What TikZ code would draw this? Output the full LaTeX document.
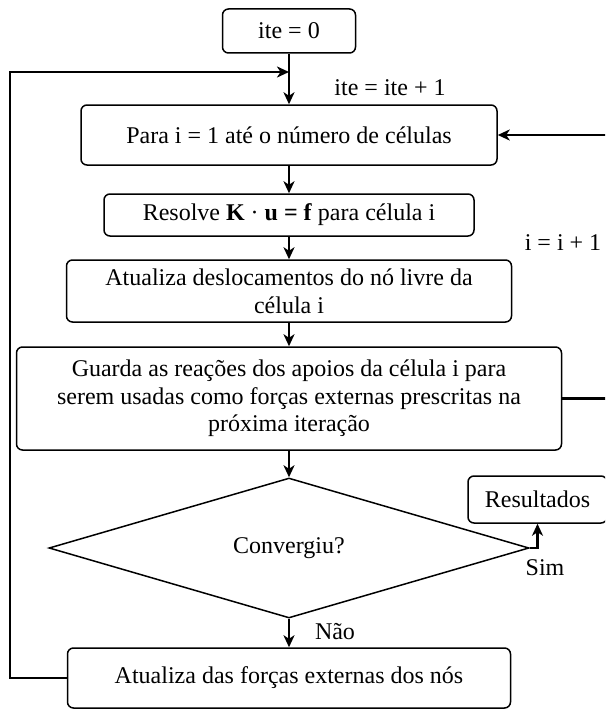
\documentclass[tikz,border=0pt]{standalone}
\usepackage{fontspec}
\setmainfont{Liberation Serif}
\usetikzlibrary{arrows.meta,shapes.geometric}
\begin{document}
\begin{tikzpicture}[x=1pt,y=-1pt,
  font=\fontsize{24}{27.6}\selectfont,
  box/.style={draw, line width=1.5pt, rounded corners=6pt, align=center, inner sep=0pt},
  conn/.style={line width=2.5pt, -{Stealth[length=12pt,width=11pt,inset=3.5pt]}},
  lbl/.style={inner sep=0pt}]
\useasboundingbox (0,0) rectangle (605,709);
\clip (0,0) rectangle (605,709);
\node[box, minimum width=133pt, minimum height=44pt] (start) at (289,31) {ite = 0};
\node[box, minimum width=416pt, minimum height=60pt] (b1) at (289,135) {Para i = 1 até o número de células};
\node[box, minimum width=370pt, minimum height=42pt] (b2) at (289,215) {Resolve \textbf{K} · \textbf{u = f} para célula i};
\node[box, minimum width=445pt, minimum height=62pt] (b3) at (289,291) {Atualiza deslocamentos do nó livre da\\célula i};
\node[box, minimum width=545pt, minimum height=103pt] (b4) at (289,398.5) {Guarda as reações dos apoios da célula i para\\serem usadas como forças externas prescritas na\\próxima iteração};
\node[draw, diamond, aspect=3.43, line width=1.5pt, minimum width=480pt, minimum height=140pt, inner sep=0pt] (dec) at (289,548) {Convergiu?};
\node[box, minimum width=139pt, minimum height=47pt] (res) at (537.5,499.5) {Resultados};
\node[box, minimum width=443pt, minimum height=60pt] (bot) at (289,678) {Atualiza das forças externas dos nós};
\coordinate (join) at (289,72);
\coordinate (lc) at (10,72);
\coordinate (rc) at (608,135);
\draw[conn] (start) -- (b1);
\draw[conn] (bot.west) -| (lc) -- (join);
\draw[conn] (b1) -- (b2);
\draw[conn] (b2) -- (b3);
\draw[conn] (b3) -- (b4);
\draw[conn] (b4) -- (dec);
\draw[conn] (dec) -- (bot);
\draw[conn] (b4.east) -| (rc) -- (b1.east);
\draw[conn] (dec.east) -| (res.south);
\node[lbl] (l1) at (390,88) {ite = ite + 1};
\node[lbl] (l2) at (563,243) {i = i + 1};
\node[lbl] (l3) at (545,568) {Sim};
\node[lbl] (l4) at (335,632) {Não};
\end{tikzpicture}
\end{document}
